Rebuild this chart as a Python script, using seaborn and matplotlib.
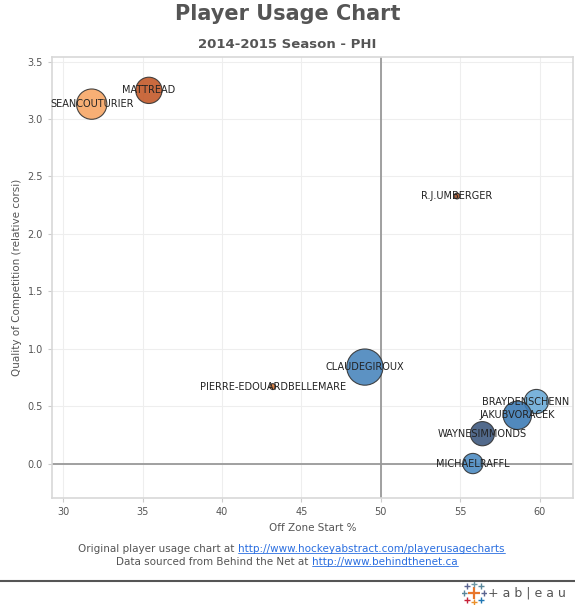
import matplotlib
matplotlib.use("Agg")
import matplotlib.pyplot as plt
import seaborn as sns
import pandas as pd
from matplotlib.lines import Line2D

# ---- data ----
players = ["SEANCOUTURIER", "MATTREAD", "R.J.UMBERGER", "CLAUDEGIROUX",
           "PIERRE-EDOUARDBELLEMARE", "BRAYDENSCHENN", "JAKUBVORACEK",
           "WAYNESIMMONDS", "MICHAELRAFFL"]
off_zone_start = [31.8, 35.4, 54.8, 49.0, 43.2, 59.8, 58.6, 56.4, 55.8]
qual_comp = [3.13, 3.25, 2.33, 0.84, 0.67, 0.54, 0.42, 0.26, 0.0]
toi = [1050, 790, 40, 1500, 40, 670, 920, 670, 470]
colors = ["#f7a766", "#c45a2a", "#a8552c", "#4a86bd", "#d9793a",
          "#6cabd8", "#3e7cb6", "#3f5a80", "#4d8cc2"]

df = pd.DataFrame({"player": players, "ozs": off_zone_start,
                   "qoc": qual_comp, "toi": toi})

sns.set_style("whitegrid")
plt.rcParams["font.family"] = ["DejaVu Sans"]

fig = plt.figure(figsize=(5.75, 6.07), dpi=100)
ax = fig.add_axes([0.0904, 0.1796, 0.906, 0.7264])

ax.axvline(50, color="#999999", lw=1.3, zorder=1)
ax.axhline(0, color="#999999", lw=1.3, zorder=1)

sns.scatterplot(data=df, x="ozs", y="qoc", hue="player", palette=colors,
                size="toi", sizes=(0, 680), size_norm=(0, 1500),
                edgecolor="#333333", linewidth=0.8, alpha=0.9,
                legend=False, ax=ax, zorder=3)

# labels centred on the bubbles, nudged inside the view at the right edge
for p, x, y in zip(players, off_zone_start, qual_comp):
    dx = -8 if x > 59.5 else 0
    ax.annotate(p, (x, y), xytext=(dx, 0), textcoords="offset points",
                ha="center", va="center", fontsize=7, color="#222222",
                zorder=4)

ax.set_xlim(29.3, 62.1)
ax.set_ylim(-0.3, 3.54)
ax.set_xticks([30, 35, 40, 45, 50, 55, 60])
ax.set_yticks([0, 0.5, 1.0, 1.5, 2.0, 2.5, 3.0, 3.5])
ax.set_yticklabels(["0.0", "0.5", "1.0", "1.5", "2.0", "2.5", "3.0", "3.5"])
ax.tick_params(labelsize=7, colors="#555555", length=3, color="#cccccc")
ax.tick_params(axis="both", which="both", left=True, bottom=True)
ax.grid(color="#eeeeee", lw=0.8)
for s in ax.spines.values():
    s.set_color("#d8d8d8")
    s.set_linewidth(1.2)
ax.set_xlabel("Off Zone Start %", fontsize=7.5, color="#555555")
ax.set_ylabel("Quality of Competition (relative corsi)", fontsize=7.5,
              color="#555555")

fig.text(0.5, 1 - 14 / 607, "Player Usage Chart", ha="center", va="center",
         fontsize=15, fontweight="bold", color="#555555")
fig.text(0.5, 1 - 44 / 607, "2014-2015 Season - PHI", ha="center",
         va="center", fontsize=9.5, fontweight="bold", color="#555555")

# footer with links
link_c = "#2a6ee0"
footer = [("Original player usage chart at ", "http://www.hockeyabstract.com/playerusagecharts", 238, 549),
          ("Data sourced from Behind the Net at ", "http://www.behindthenet.ca", 312, 562)]
fig.canvas.draw()
r = fig.canvas.get_renderer()
for plain, link, xs, ys in footer:
    fig.text(xs / 575, 1 - ys / 607, plain, ha="right", va="center",
             fontsize=7.5, color="#555555")
    t = fig.text(xs / 575, 1 - ys / 607, link, ha="left", va="center",
                 fontsize=7.5, color=link_c)
    bb = t.get_window_extent(renderer=r)
    fig.lines.append(Line2D([bb.x0 / 575, bb.x1 / 575],
                            [(bb.y0 + 1) / 607, (bb.y0 + 1) / 607],
                            transform=fig.transFigure, color=link_c, lw=0.6))

fig.lines.append(Line2D([0, 1], [1 - 581 / 607, 1 - 581 / 607],
                        transform=fig.transFigure, color="#555555", lw=1.5))

# tableau mark
logo = fig.add_axes([462 / 575, 1 - 604 / 607, 24 / 575, 22 / 607])
logo.set_xlim(-1, 1)
logo.set_ylim(-1, 1)
logo.axis("off")
logo.plot([0], [0], marker="+", ms=9, mew=1.6, color="#e8762c")
for (px, py), c in zip([(-0.6, 0.6), (0.6, 0.6), (-0.6, -0.6), (0.6, -0.6),
                        (0, 0.85), (0, -0.85), (-0.85, 0), (0.85, 0)],
                       ["#5b6591", "#59879b", "#c72037", "#1f77b4",
                        "#7099a6", "#eb912b", "#59879b", "#5b6591"]):
    logo.plot([px], [py], marker="+", ms=4, mew=1, color=c)
fig.text(488 / 575, 1 - 593 / 607, "+ a b | e a u", ha="left", va="center",
         fontsize=9, color="#555555")

fig.savefig("out.png", dpi=100)
